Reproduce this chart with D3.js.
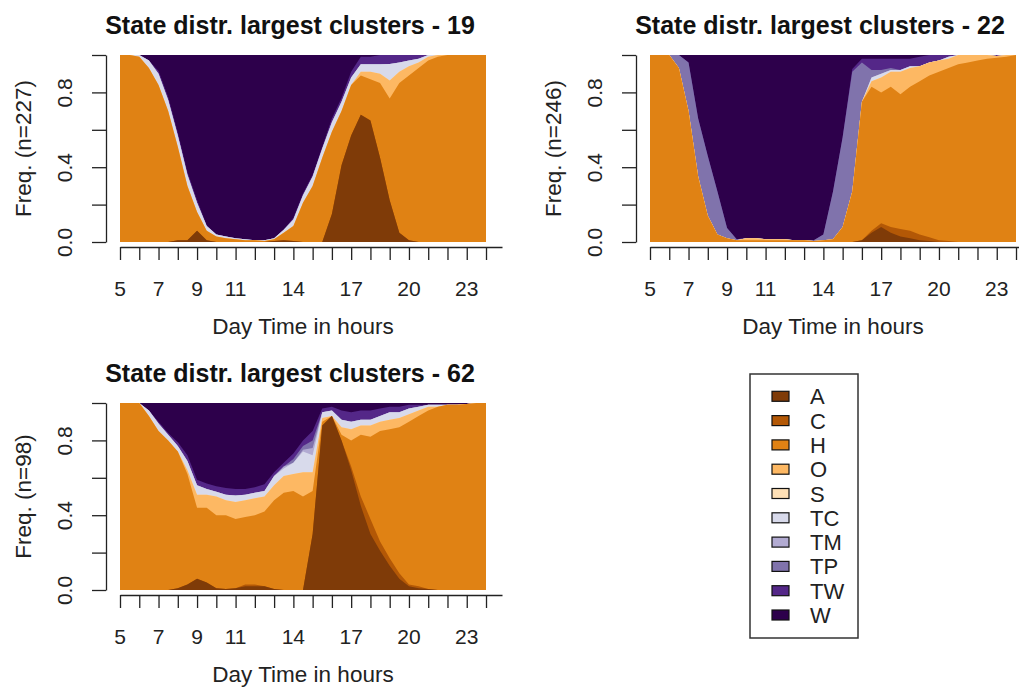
<!DOCTYPE html>
<html>
<head>
<meta charset="utf-8">
<script src="https://cdn.jsdelivr.net/npm/d3@7"></script>
<style>
body { margin: 0; background: #fff; }
text { font-family: "Liberation Sans", Arial, sans-serif; fill: #222; }
</style>
</head>
<body>
<div class="chart"></div>
<script>
// time axis: one value every half hour, 5:00 to 24:00
var hours = [5, 5.5, 6, 6.5, 7, 7.5, 8, 8.5, 9, 9.5, 10, 10.5, 11, 11.5, 12, 12.5, 13, 13.5, 14, 14.5,
             15, 15.5, 16, 16.5, 17, 17.5, 18, 18.5, 19, 19.5, 20, 20.5, 21, 21.5, 22, 22.5, 23, 23.5, 24];

var states = ["A", "C", "H", "O", "S", "TC", "TM", "TP", "TW", "W"];
var stateColors = ["#7f3b08", "#b35806", "#e08214", "#fdb863", "#fee0b6",
                   "#d8daeb", "#b2abd2", "#8073ac", "#542788", "#2d004b"];

var hourTicks = [5, 6, 7, 8, 9, 10, 11, 12, 13, 14, 15, 16, 17, 18, 19, 20, 21, 22, 23, 24];
var hourLabels = [5, 7, 9, 11, 14, 17, 20, 23];
var freqTicks = [0, 0.2, 0.4, 0.6, 0.8, 1];
var freqLabels = [0, 0.4, 0.8];

// cluster 19 (n=227)
var c19A  = [0,0,0,0,0,0,.01,.01,.06,.01,0,0,0,0,0,0,.005,.01,.005,0,0,0,.15,.41,.57,.68,.65,.45,.23,.05,.01,0,0,0,0,0,0,0,0];
var c19H  = [1,1,.99,.93,.84,.70,.50,.29,.10,.05,.03,.02,.015,.01,.01,.005,.01,.04,.08,.21,.30,.45,.44,.29,.27,.21,.22,.40,.56,.80,.88,.93,.97,.99,1,1,1,1,1];
var c19O  = [0,0,0,0,0,0,0,0,0,0,0,0,0,0,0,0,0,0,0,0,0,0,0,0,0,.02,.04,.05,.10,.06,.05,.03,.02,.01,0,0,0,0,0];
var c19TC = [0,0,.01,.04,.06,.06,.06,.06,.05,.025,.01,.01,.005,.005,0,.005,.005,.015,.035,.04,.05,.05,.05,.05,.04,.04,.04,.05,.09,.05,.03,.02,.01,0,0,0,0,0,0];
var c19TW = [0,0,0,0,.015,.015,.015,.015,.015,.005,0,0,0,0,0,0,0,0,.01,.01,.01,.01,.02,.02,.03,.04,.04,.05,.05,.04,.03,.02,0,0,0,0,0,0,0];
var c19W  = [0,0,0,.03,.085,.225,.415,.625,.775,.91,.96,.97,.98,.985,.99,.99,.98,.935,.87,.74,.64,.49,.34,.23,.09,.01,.01,0,0,0,0,0,0,0,0,0,0,0,0];

// cluster 22 (n=246)
var c22A  = [0,0,0,0,0,0,0,0,0,0,0,0,0,0,0,0,0,0,0,0,0,0,.01,.05,.08,.05,.03,.02,.01,.005,0,0,0,0,0,0,0,0,0];
var c22C  = [0,0,0,0,0,0,0,0,0,0,0,0,0,0,0,0,0,0,0,0,0,0,0,.01,.02,.03,.04,.04,.03,.02,.01,.005,0,0,0,0,0,0,0];
var c22H  = [1,1,1,.93,.70,.35,.14,.04,.02,.01,.01,.01,.01,.01,.01,.01,.01,.005,.01,.015,.08,.27,.74,.77,.70,.75,.72,.77,.82,.865,.90,.925,.95,.96,.97,.98,.985,.99,1];
var c22O  = [0,0,0,0,0,0,0,0,0,0,.01,.01,.005,.005,.005,0,0,0,0,0,0,0,0,.03,.08,.08,.12,.10,.08,.07,.06,.05,.05,.04,.03,.02,.01,.01,0];
var c22TC = [0,0,0,0,0,0,0,0,0,0,0,0,0,0,0,0,0,0,0,0,0,0,0,.02,.02,.01,.01,.01,0,0,0,.01,0,0,0,0,0,0,0];
var c22TP = [0,0,0,.07,.26,.31,.32,.23,.055,.005,0,0,0,0,0,0,0,.005,.03,.255,.48,.64,.21,.04,.02,.01,0,0,0,0,0,0,0,0,0,0,0,0,0];
var c22TW = [0,0,0,0,0,0,0,0,0,0,0,0,0,0,0,0,0,0,0,0,0,.015,.02,.06,.06,.05,.06,.04,.05,.04,.03,.01,0,0,0,0,.005,0,0];
var c22W  = [0,0,0,0,.04,.34,.54,.73,.925,.985,.98,.98,.985,.985,.985,.99,.99,.99,.96,.73,.44,.075,.02,.02,.02,.02,.02,.02,.01,0,0,0,0,0,0,0,0,0,0];

// cluster 62 (n=98)
var c62A  = [0,0,0,0,0,0,.01,.03,.06,.04,.01,.005,.01,.02,.02,.02,.005,0,0,0,.30,.88,.93,.80,.64,.45,.30,.21,.13,.06,.02,.01,.005,0,0,0,0,0,0];
var c62C  = [0,0,0,0,0,0,0,0,0,0,0,0,0,.01,.01,0,0,0,0,0,0,0,0,0,.02,.05,.08,.05,.04,.03,.01,.01,0,0,0,0,0,0,0];
var c62H  = [1,1,1,.93,.85,.80,.73,.59,.38,.40,.39,.395,.37,.36,.37,.40,.475,.52,.53,.50,.23,.02,0,.03,.14,.33,.44,.59,.69,.78,.87,.91,.955,.98,.99,.99,.995,1,1];
var c62O  = [0,0,0,0,0,0,0,.02,.07,.07,.10,.08,.09,.09,.09,.08,.08,.09,.09,.13,.10,.02,0,.04,.06,.05,.06,.05,.05,.05,.04,.03,.02,0,0,0,0,0,0];
var c62TC = [0,0,0,.03,.04,.03,.03,.05,.05,.03,.025,.03,.035,.03,.03,.03,.05,.04,.06,.11,.09,.03,.03,.04,.04,.03,.03,.03,.04,.03,.03,.02,.01,.01,0,0,0,0,0];
var c62TM = [0,0,0,0,0,0,0,0,0,0,0,0,0,0,0,0,0,.01,0,.01,.04,0,0,0,0,0,0,0,0,0,0,0,0,0,0,0,0,0,0];
var c62TP = [0,0,0,0,0,0,0,0,0,0,0,0,0,0,0,0,0,0,.02,.02,.04,0,0,0,0,0,0,0,0,0,0,0,0,0,0,0,0,0,0];
var c62TW = [0,0,0,0,.01,.01,.02,.03,.03,.03,.03,.035,.035,.03,.03,.035,.02,.02,.03,.03,.05,.02,.02,.05,.05,.05,.05,.04,.03,.03,.02,.01,0,0,0,0,0,0,0];
var c62W  = [0,0,0,.04,.10,.16,.21,.28,.41,.43,.445,.455,.46,.46,.45,.435,.37,.32,.27,.20,.15,.03,.02,.04,.05,.04,.04,.03,.02,.02,.01,.01,.01,.01,.01,.01,.005,0,0];

var panels = [
    { title: "State distr. largest clusters - 19", n: 227, dx: 0, dy: 0,
      data: { A: c19A, H: c19H, O: c19O, TC: c19TC, TW: c19TW, W: c19W } },
    { title: "State distr. largest clusters - 22", n: 246, dx: 530, dy: 0,
      data: { A: c22A, C: c22C, H: c22H, O: c22O, TC: c22TC, TP: c22TP, TW: c22TW, W: c22W } },
    { title: "State distr. largest clusters - 62", n: 98, dx: 0, dy: 348,
      data: { A: c62A, C: c62C, H: c62H, O: c62O, TC: c62TC, TM: c62TM, TP: c62TP, TW: c62TW, W: c62W } }
];

var svg = d3.select(".chart")
    .append("svg")
    .attr("width", 1019)
    .attr("height", 687);

var margin = { left: 120, top: 55 };
var plotH = 187;

// axis line in the original runs a bit past the 24h tick
var x = d3.scaleLinear().domain([5, 24.83]).range([0, 382]);
var y = d3.scaleLinear().domain([0, 1]).range([plotH, 0]);
var color = d3.scaleOrdinal().domain(states).range(stateColors);

var stack = d3.stack().keys(states).offset(d3.stackOffsetExpand);

// each layer filled from the bottom up to its cumulative top, drawn top layer first (no seams)
var area = d3.area()
    .x(d => x(d.data.hour))
    .y0(y(0))
    .y1(d => y(d[1]));

panels.forEach(function (p, k) {
    var rows = hours.map(function (h, i) {
        var r = { hour: h };
        states.forEach(function (s) { r[s] = p.data[s] ? p.data[s][i] : 0; });
        return r;
    });
    var series = stack(rows);

    var g = svg.append("g")
        .attr("transform", `translate(${margin.left + p.dx}, ${margin.top + p.dy})`);

    g.append("clipPath").attr("id", "clip" + k)
        .append("rect")
        .attr("width", x(24))
        .attr("height", plotH);

    g.append("g")
        .attr("clip-path", `url(#clip${k})`)
        .selectAll("path")
        .data(series.slice().reverse())
        .enter()
        .append("path")
        .attr("fill", d => color(d.key))
        .attr("d", area);

    // x axis (ticks every hour, labels drawn separately)
    var xAxis = d3.axisBottom(x)
        .tickValues(hourTicks)
        .tickFormat(() => "")
        .tickSize(13)
        .tickSizeOuter(0);
    var gx = g.append("g")
        .attr("transform", `translate(0, ${plotH + 5})`)
        .call(xAxis);

    g.append("g")
        .selectAll("text")
        .data(hourLabels)
        .enter()
        .append("text")
        .attr("x", d => x(d))
        .attr("y", plotH + 5 + 49)
        .attr("text-anchor", "middle")
        .style("font-size", "21px")
        .text(d => d);

    // y axis
    var yAxis = d3.axisLeft(y)
        .tickValues(freqTicks)
        .tickFormat(v => freqLabels.indexOf(v) >= 0 ? d3.format(".1f")(v) : "")
        .tickSize(14)
        .tickSizeOuter(0);
    var gy = g.append("g")
        .attr("transform", "translate(-14, 0)")
        .call(yAxis);
    gy.selectAll(".tick text")
        .attr("x", 0)
        .attr("dy", "0em")
        .attr("text-anchor", "middle")
        .attr("transform", "translate(-34, 0) rotate(-90)")
        .style("font-size", "21px");

    [gx, gy].forEach(function (a) {
        a.selectAll("path, line").attr("stroke", "#222").attr("stroke-width", 1.3);
        a.attr("font-family", null).attr("font-size", null);
    });

    // labels
    svg.append("text")
        .attr("x", 290 + p.dx)
        .attr("y", 34 + p.dy)
        .attr("text-anchor", "middle")
        .style("font-size", "25px")
        .style("font-weight", "bold")
        .style("fill", "#111")
        .text(p.title);

    svg.append("text")
        .attr("transform", `translate(${31 + p.dx}, ${margin.top + p.dy + plotH / 2}) rotate(-90)`)
        .attr("text-anchor", "middle")
        .style("font-size", "22.5px")
        .text(`Freq. (n=${p.n})`);

    svg.append("text")
        .attr("x", margin.left + p.dx + x(24) / 2)
        .attr("y", 334 + p.dy)
        .attr("text-anchor", "middle")
        .style("font-size", "22.5px")
        .text("Day Time in hours");
});

// legend
var legend = svg.append("g").attr("transform", "translate(750, 374)");
legend.append("rect")
    .attr("width", 108)
    .attr("height", 264)
    .attr("fill", "none")
    .attr("stroke", "#333")
    .attr("stroke-width", 1.5);

var item = legend.selectAll("g.item")
    .data(states)
    .enter()
    .append("g")
    .attr("class", "item")
    .attr("transform", (d, i) => `translate(0, ${22.3 + i * 24.3})`);

item.append("rect")
    .attr("x", 22)
    .attr("y", -5)
    .attr("width", 17)
    .attr("height", 10)
    .attr("fill", d => color(d))
    .attr("stroke", "#111")
    .attr("stroke-width", 1.2);

item.append("text")
    .attr("x", 60)
    .attr("y", 8)
    .style("font-size", "22px")
    .text(d => d);
</script>
</body>
</html>
